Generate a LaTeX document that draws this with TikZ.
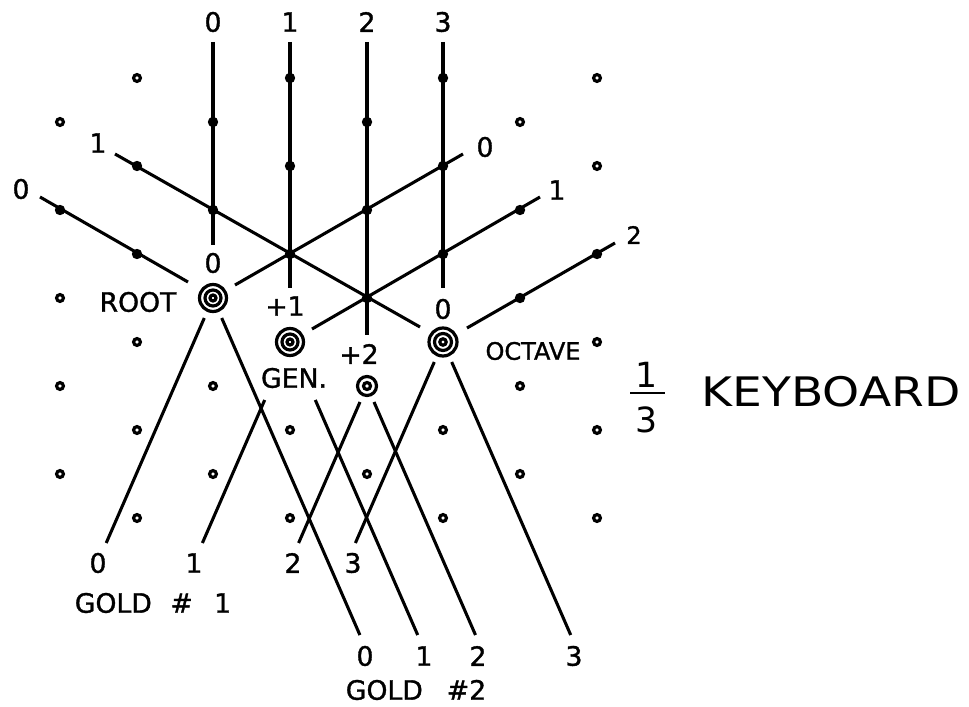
\documentclass[tikz,border=0pt]{standalone}
\usepackage{fontspec}
\setmainfont{DejaVu Sans}[BoldFont={DejaVu Sans},BoldFeatures={FakeBold=1.3}]
\begin{document}
\begin{tikzpicture}[x=0.75pt,y=-0.75pt,
  ln/.style={line width=2.3pt},
  lbl/.style={inner sep=0pt,font=\fontsize{20}{24}\selectfont\bfseries},
  sml/.style={inner sep=0pt,font=\fontsize{18}{22}\selectfont\bfseries},
  odot/.style={line width=2.4pt},
  fdot/.style={fill=black},
  ring/.style={line width=2.4pt}]
\useasboundingbox (0,0) rectangle (969,706);

% key nodes (tonal centres)
\coordinate (root) at (213,298);
\coordinate (gen) at (290,342);
\coordinate (plus2) at (367,386);
\coordinate (octave) at (443,342);

% ---- labels ----
\node[lbl] (t0) at (213,22) {0};
\node[lbl] (t1) at (290,22) {1};
\node[lbl] (t2) at (367,22) {2};
\node[lbl] (t3) at (443,22) {3};
\node[lbl] (l0) at (21,189) {0};
\node[lbl] (l1) at (98,143) {1};
\node[lbl] (r0) at (485,147) {0};
\node[lbl] (r1) at (557,190) {1};
\node[sml] (r2) at (634,235) {2};
\node[lbl] (rootz) at (213,263) {0};
\node[lbl] (rootl) at (138,302) {ROOT};
\node[lbl] (p1) at (285,306) {+1};
\node[lbl] (genl) at (294,378) {GEN.};
\node[lbl] (p2) at (359,354) {+2};
\node[lbl] (octz) at (443,309) {0};
\node[sml] (octl) at (533,351) {OCTAVE};
\node[lbl] (a0) at (98,563) {0};
\node[lbl] (a1) at (194,563) {1};
\node[lbl] (a2) at (293,563) {2};
\node[lbl] (a3) at (353,563) {3};
\node[lbl] (gold1) at (153,603) {GOLD\hspace{14pt}\#\hspace{16pt}1};
\node[lbl] (b0) at (365,656) {0};
\node[lbl] (b1) at (424,656) {1};
\node[lbl] (b2) at (478,656) {2};
\node[lbl] (b3) at (574,656) {3};
\node[lbl] (gold2) at (416,690) {GOLD\hspace{18pt}\#2};
\node[inner sep=0pt,font=\fontsize{26}{30}\selectfont] (fn) at (647,375) {1};
\node[inner sep=0pt,font=\fontsize{26}{30}\selectfont] (fd) at (647,420) {3};
\coordinate (barl) at (630,393);
\coordinate (barr) at (665,393);
\draw[line width=2pt] (barl) -- (barr);
\node[inner sep=0pt,font=\fontsize{30.5}{34}\selectfont] (kb) at (831,392) {\scalebox{1.16}[1]{KEYBOARD}};

% ---- vertical lines ----
\coordinate (v0a) at (213,42); \coordinate (v0b) at (213,245);
\coordinate (v1a) at (290,42); \coordinate (v1b) at (290,288);
\coordinate (v2a) at (367,42); \coordinate (v2b) at (367,335);
\coordinate (v3a) at (443,42); \coordinate (v3b) at (443,288);
\draw[ln] (v0a) -- (v0b);
\draw[ln] (v1a) -- (v1b);
\draw[ln] (v2a) -- (v2b);
\draw[ln] (v3a) -- (v3b);

% ---- descending lines ----
\coordinate (d0a) at (40,197); \coordinate (d0b) at (188,282);
\coordinate (d1a) at (115,154); \coordinate (d1b) at (420,327);
\draw[ln] (d0a) -- (d0b);
\draw[ln] (d1a) -- (d1b);

% ---- ascending lines ----
\coordinate (e0a) at (235,285); \coordinate (e0b) at (463,154);
\coordinate (e1a) at (312,329); \coordinate (e1b) at (540,197);
\coordinate (e2a) at (467,328); \coordinate (e2b) at (615,243);
\draw[ln] (e0a) -- (e0b);
\draw[ln] (e1a) -- (e1b);
\draw[ln] (e2a) -- (e2b);

% ---- gold #1 lines ----
\coordinate (g10a) at (204.3,318); \coordinate (g10b) at (106.2,543);
\coordinate (g11a) at (264.7,400); \coordinate (g11b) at (202.4,543);
\coordinate (g12a) at (360,402);   \coordinate (g12b) at (298.6,543);
\coordinate (g13a) at (434.3,362); \coordinate (g13b) at (355.4,543);
\draw[ln] (g10a) -- (g10b);
\draw[ln] (g11a) -- (g11b);
\draw[ln] (g12a) -- (g12b);
\draw[ln] (g13a) -- (g13b);

% ---- gold #2 lines ----
\coordinate (g20a) at (221.7,318); \coordinate (g20b) at (359.9,635);
\coordinate (g21a) at (315.3,400); \coordinate (g21b) at (417.7,635);
\coordinate (g22a) at (374,402);   \coordinate (g22b) at (475.5,635);
\coordinate (g23a) at (451.7,362); \coordinate (g23b) at (570.7,635);
\draw[ln] (g20a) -- (g20b);
\draw[ln] (g21a) -- (g21b);
\draw[ln] (g22a) -- (g22b);
\draw[ln] (g23a) -- (g23b);

% ---- filled lattice dots ----
\foreach \p in {(213,122),(213,210),(290,78),(290,166),(290,254),(367,122),(367,210),(367,298),(443,78),(443,166),(443,254),(520,210),(520,298),(597,254),(60,210),(137,166),(137,254)}
  \fill[fdot] \p circle (5.2);

% ---- open lattice dots ----
\foreach \p in {(137,78),(597,78),(60,122),(520,122),(597,166),(60,298),(137,342),(60,386),(213,386),(137,430),(290,430),(60,474),(213,474),(137,518),(290,518),(520,386),(443,430),(597,430),(367,474),(520,474),(443,518),(597,518),(597,342)}
  \draw[odot] \p circle (3.4);

% ---- ringed tonal centres ----
\foreach \r in {13.5,8,3} \draw[ring] (root) circle (\r);
\foreach \r in {13.5,8,3} \draw[ring] (gen) circle (\r);
\foreach \r in {14,8.5,3.2} \draw[ring] (octave) circle (\r);
\foreach \r in {9.5,3.5} \draw[ring] (plus2) circle (\r);
\end{tikzpicture}
\end{document}
